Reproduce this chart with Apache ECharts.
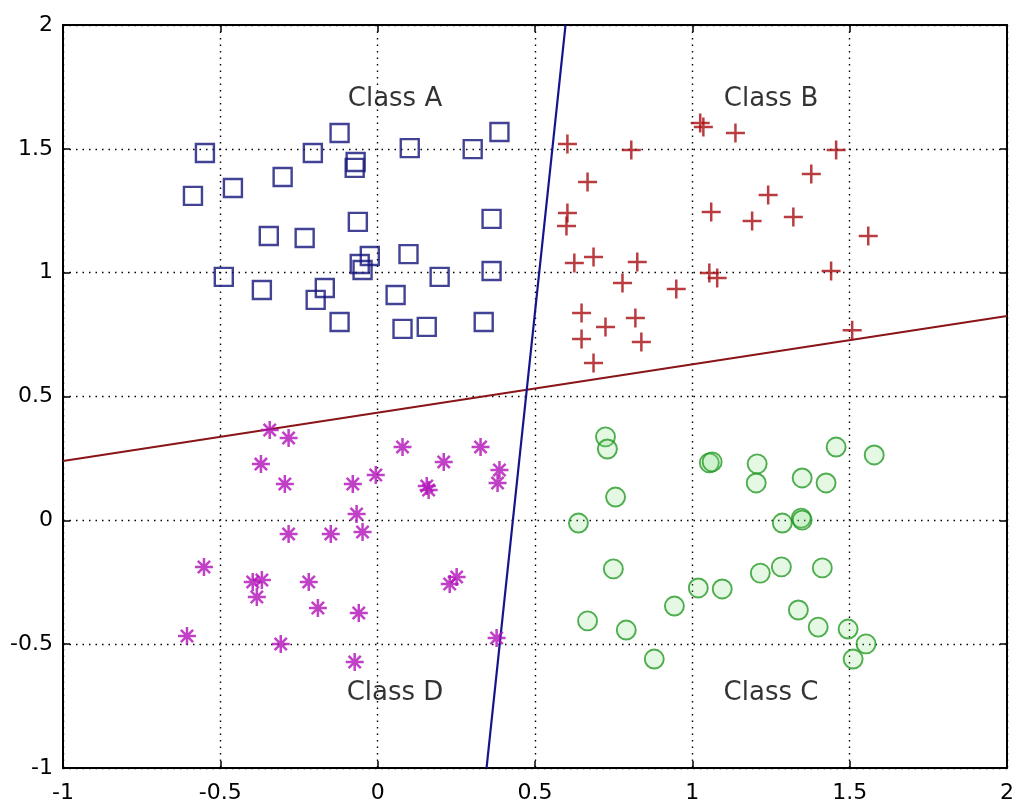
<!DOCTYPE html>
<html>
<head>
<meta charset="utf-8">
<script src="https://cdn.jsdelivr.net/npm/echarts@6/dist/echarts.min.js"></script>
<style>
html,body{margin:0;padding:0;background:#fff;}
#chart{width:1017px;height:808px;}
</style>
</head>
<body>
<div id="chart"></div>
<script>
// Axis ticks
const xTicks = [-1, -0.5, 0, 0.5, 1, 1.5, 2];
const yTicks = [-1, -0.5, 0, 0.5, 1, 1.5, 2];

// Class A (blue squares)
const classA = [
  [-0.587,1.310],[-0.549,1.483],[-0.460,1.342],[-0.489,0.983],[-0.368,0.930],
  [-0.346,1.148],[-0.302,1.386],[-0.232,1.140],[-0.206,1.483],[-0.121,1.564],
  [-0.197,0.890],[-0.168,0.938],[-0.121,0.801],[-0.070,1.447],[-0.073,1.423],
  [-0.063,1.205],[-0.025,1.067],[-0.057,1.035],[-0.048,1.011],[0.057,0.910],
  [0.102,1.503],[0.098,1.075],[0.079,0.773],[0.156,0.781],[0.197,0.983],
  [0.302,1.499],[0.387,1.568],[0.362,1.217],[0.362,1.007],[0.337,0.801]
];

// Class B (red plus)
const classB = [
  [0.603,1.520],[0.806,1.495],[1.025,1.604],[1.035,1.588],[1.137,1.564],
  [0.667,1.366],[0.603,1.241],[0.600,1.188],[1.060,1.245],[1.190,1.209],
  [1.241,1.314],[1.321,1.225],[1.378,1.398],[1.457,1.495],[1.559,1.148],
  [0.625,1.039],[0.686,1.063],[0.825,1.043],[0.778,0.958],[0.949,0.934],
  [1.054,0.999],[1.079,0.978],[1.441,1.007],[0.648,0.837],[0.724,0.781],
  [0.819,0.817],[0.648,0.732],[0.838,0.720],[0.686,0.635],[1.508,0.768]
];

// Class C (green circles)
const classC = [
  [0.724,0.337],[0.730,0.288],[0.756,0.094],[0.638,-0.011],[1.054,0.232],
  [1.063,0.236],[1.206,0.228],[1.203,0.151],[0.749,-0.196],[1.216,-0.213],
  [1.019,-0.273],[1.095,-0.277],[0.943,-0.346],[0.667,-0.406],[0.790,-0.443],
  [0.879,-0.560],[1.457,0.296],[1.578,0.264],[1.349,0.171],[1.425,0.151],
  [1.286,-0.011],[1.346,0.009],[1.349,0.001],[1.283,-0.188],[1.413,-0.192],
  [1.337,-0.362],[1.400,-0.431],[1.495,-0.439],[1.552,-0.499],[1.511,-0.560]
];

// Class D (magenta stars)
const classD = [
  [-0.343,0.365],[-0.283,0.332],[-0.371,0.227],[-0.295,0.147],[-0.079,0.147],
  [-0.006,0.183],[-0.067,0.026],[-0.048,-0.047],[-0.283,-0.055],[-0.149,-0.055],
  [-0.552,-0.188],[-0.397,-0.249],[-0.368,-0.241],[-0.384,-0.310],[-0.219,-0.249],
  [-0.190,-0.354],[-0.060,-0.374],[-0.606,-0.467],[-0.308,-0.499],[-0.073,-0.572],
  [0.079,0.296],[0.327,0.296],[0.210,0.236],[0.156,0.139],[0.387,0.203],
  [0.381,0.151],[0.251,-0.229],[0.229,-0.257],[0.378,-0.475],[0.162,0.122]
];

// Decision boundaries
const blueLine = [[0.597,2],[0.346,-1]];
const redLine = [[-1,0.240],[2,0.825]];

// Class labels
const labelNames = ['Class A','Class B','Class C','Class D'];
const labelX = [0.055, 1.25, 1.25, 0.055];
const labelY = [1.70, 1.70, -0.70, -0.70];

const chart = echarts.init(document.getElementById('chart'), null, {renderer:'canvas'});

const tickFont = {fontFamily:'DejaVu Sans', fontSize:22, color:'#000'};
const gridDots = {show:true, lineStyle:{color:'#000', width:1.4, type:[1.5,5]}};

const plusPath = 'path://M5,0L5,10M0,5L10,5';
const starPath = 'path://M5,0L5,10M0,5L10,5M1.6,1.6L8.4,8.4M8.4,1.6L1.6,8.4';

const option = {
  animation:false,
  backgroundColor:'#fff',
  grid:{left:63, right:9, top:25, bottom:40, containLabel:false},
  xAxis:[
    {type:'value', min:xTicks[0], max:xTicks[xTicks.length-1], interval:0.5, position:'bottom',
     axisLine:{show:true, onZero:false, lineStyle:{color:'#000', width:2}},
     axisTick:{show:true, inside:true, length:7, lineStyle:{color:'#000', width:1.5}},
     axisLabel:Object.assign({margin:14}, tickFont),
     splitLine:gridDots},
    {type:'value', min:xTicks[0], max:xTicks[xTicks.length-1], interval:0.5, position:'top',
     axisLine:{show:true, onZero:false, lineStyle:{color:'#000', width:2}},
     axisTick:{show:true, inside:true, length:7, lineStyle:{color:'#000', width:1.5}},
     axisLabel:{show:false}, splitLine:{show:false}}
  ],
  yAxis:[
    {type:'value', min:yTicks[0], max:yTicks[yTicks.length-1], interval:0.5, position:'left',
     axisLine:{show:true, onZero:false, lineStyle:{color:'#000', width:2}},
     axisTick:{show:true, inside:true, length:7, lineStyle:{color:'#000', width:1.5}},
     axisLabel:Object.assign({margin:10}, tickFont),
     splitLine:gridDots},
    {type:'value', min:yTicks[0], max:yTicks[yTicks.length-1], interval:0.5, position:'right',
     axisLine:{show:true, onZero:false, lineStyle:{color:'#000', width:2}},
     axisTick:{show:true, inside:true, length:7, lineStyle:{color:'#000', width:1.5}},
     axisLabel:{show:false}, splitLine:{show:false}}
  ],
  series:[
    {type:'line', data:redLine, showSymbol:false, symbol:'none',
     lineStyle:{color:'#8a1418', width:2}, z:3},
    {type:'line', data:blueLine, showSymbol:false, symbol:'none',
     lineStyle:{color:'#14148f', width:2.2}, z:3},
    {type:'scatter', name:'Class A', data:classA, symbol:'rect', symbolSize:18,
     itemStyle:{color:'rgba(0,0,0,0)', borderColor:'#14147a', borderWidth:2.4}, z:4},
    {type:'scatter', name:'Class B', data:classB, symbol:plusPath, symbolSize:19,
     itemStyle:{color:'rgba(0,0,0,0)', borderColor:'#a80c10', borderWidth:2.5}, z:4},
    {type:'scatter', name:'Class C', data:classC, symbol:'circle', symbolSize:19,
     itemStyle:{color:'rgba(120,220,120,0.25)', borderColor:'#259a25', borderWidth:1.9}, z:4},
    {type:'scatter', name:'Class D', data:classD, symbol:starPath, symbolSize:18,
     itemStyle:{color:'rgba(0,0,0,0)', borderColor:'#b010b8', borderWidth:2.5}, z:4},
    {type:'scatter', name:'labels', symbolSize:0, silent:true,
     data:labelNames.map((n,i)=>({name:n, value:[labelX[i], labelY[i]]})),
     label:{show:true, position:'inside', formatter:'{b}', fontFamily:'DejaVu Sans',
            fontSize:26, color:'#000'}, z:5}
  ]
};
chart.setOption(option);
</script>
</body>
</html>
